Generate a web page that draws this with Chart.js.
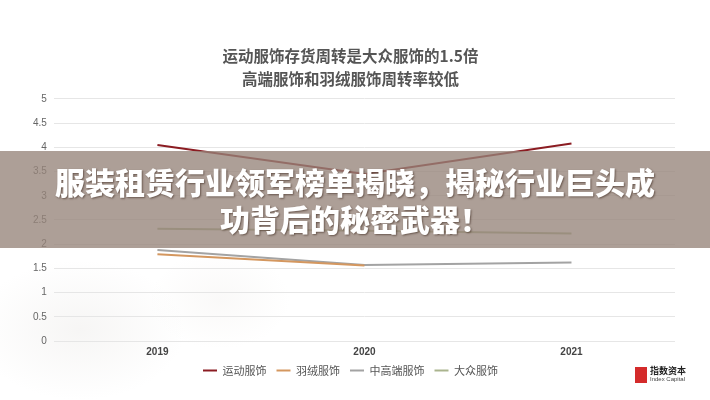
<!DOCTYPE html>
<html>
<head>
<meta charset="utf-8">
<script src="https://cdn.jsdelivr.net/npm/chart.js@4.4.1/dist/chart.umd.min.js"></script>
<style>
  body { margin: 0; background: #fff; font-family: "Noto Sans CJK SC", "Noto Sans", sans-serif; }
  #wrap { position: relative; width: 710px; height: 400px; overflow: hidden;
    background: radial-gradient(ellipse 150px 100px at 80px 330px, rgba(236,234,232,0.45), rgba(255,255,255,0) 70%),
                radial-gradient(ellipse 100px 70px at 220px 300px, rgba(242,240,238,0.4), rgba(255,255,255,0) 70%); }
  canvas { position: absolute; left: 0; top: 0; }
  #banner { position: absolute; left: 0; top: 151px; width: 710px; height: 97px;
    background: rgba(150,132,122,0.78); }
  #banner p { margin: 0; color: #fff; font-weight: 900; font-size: 30px; text-align: center;
    line-height: 37px; letter-spacing: 0px; text-shadow: 1px 1px 2px rgba(60,40,30,0.6); }
  #banner p:first-child { padding-top: 12px; }
  #logo { position: absolute; left: 635px; top: 366px; display: flex; align-items: center; }
  #logo .sq { width: 12px; height: 16px; background: #d42b2b; margin-right: 3px; }
  #logo .t1 { font-size: 9px; font-weight: bold; color: #222; line-height: 10px; }
  #logo .t2 { font-size: 6px; color: #444; line-height: 7px; font-family: "Liberation Sans", sans-serif; }
</style>
</head>
<body>
<div id="wrap">
  <canvas id="chart" width="710" height="400"></canvas>
  <div id="banner">
    <p>服装租赁行业领军榜单揭晓，揭秘行业巨头成</p>
    <p>功背后的秘密武器！</p>
  </div>
  <div id="logo"><div class="sq"></div><div><div class="t1">指数资本</div><div class="t2">Index Capital</div></div></div>
</div>
<script>
const years = ["2019", "2020", "2021"];
const sportswear = [4.05, 3.45, 4.08];
const downwear = [1.79, 1.56, null];
const premiumwear = [1.88, 1.57, 1.62];
const masswear = [2.32, 2.28, 2.22];
const titleLines = ["运动服饰存货周转是大众服饰的1.5倍", "高端服饰和羽绒服饰周转率较低"];

const series = [
  { label: "运动服饰", data: sportswear, color: "#8b1c22" },
  { label: "羽绒服饰", data: downwear, color: "#d4975f" },
  { label: "中高端服饰", data: premiumwear, color: "#a3a3a3" },
  { label: "大众服饰", data: masswear, color: "#aab48e" },
];

const ctx = document.getElementById("chart").getContext("2d");
new Chart(ctx, {
  type: "line",
  data: {
    labels: years,
    datasets: series.map((s) => ({
      label: s.label,
      data: s.data,
      borderColor: s.color,
      backgroundColor: s.color,
      borderWidth: 2,
      pointRadius: 0,
      tension: 0,
      fill: false,
    })),
  },
  options: {
    responsive: false,
    animation: false,
    layout: { padding: { left: 26, right: 35, bottom: 14 } },
    plugins: {
      title: {
        display: true,
        text: titleLines,
        color: "#555",
        font: { family: "Noto Sans CJK SC", size: 15.5, weight: "bold", lineHeight: 1.45 },
        padding: { top: 45, bottom: 9 },
      },
      legend: {
        position: "bottom",
        labels: {
          usePointStyle: true,
          pointStyle: "line",
          pointStyleWidth: 14,
          color: "#555",
          font: { family: "Noto Sans CJK SC", size: 11 },
          padding: 10,
          boxHeight: 8,
        },
      },
      tooltip: { enabled: false },
    },
    scales: {
      x: {
        offset: true,
        grid: { display: false },
        border: { display: false },
        ticks: { color: "#444", font: { family: "Liberation Sans", size: 10, weight: "bold" }, padding: -3 },
      },
      y: {
        min: 0,
        max: 5,
        ticks: {
          stepSize: 0.5,
          color: "#666",
          font: { family: "Liberation Sans", size: 10 },
          padding: 7,
          callback: (v) => String(Math.round(v * 10) / 10),
        },
        grid: { color: "#e6e6e6", drawTicks: false },
        border: { display: false },
      },
    },
  },
});
</script>
</body>
</html>
